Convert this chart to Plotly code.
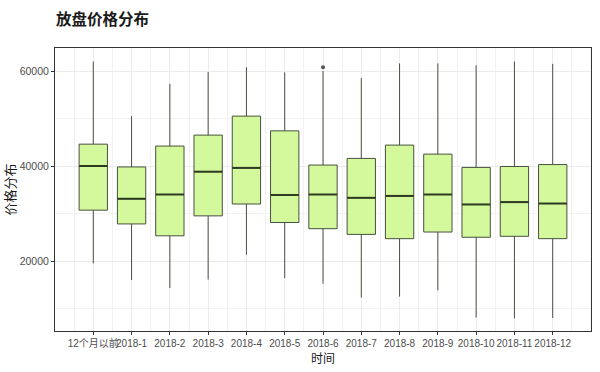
import plotly.graph_objects as go

categories = ["12个月以前", "2018-1", "2018-2", "2018-3", "2018-4", "2018-5", "2018-6",
              "2018-7", "2018-8", "2018-9", "2018-10", "2018-11", "2018-12"]
lower_whisker = [19500, 16000, 14300, 16100, 21300, 16400, 15200, 12300, 12500, 13800, 8100, 7900, 8000]
q1_values     = [30700, 27800, 25300, 29500, 32000, 28100, 26800, 25600, 24700, 26100, 25000, 25200, 24700]
median_values = [40000, 33100, 34000, 38800, 39600, 33900, 34000, 33300, 33700, 34000, 31900, 32400, 32100]
q3_values     = [44600, 39800, 44200, 46500, 50500, 47400, 40200, 41600, 44400, 42500, 39700, 39900, 40300]
upper_whisker = [62000, 50500, 57300, 59800, 60800, 59700, 60000, 58500, 61600, 61600, 61200, 62000, 61500]
outlier_cat = ["2018-6"]
outlier_val = [60800]

title_text = "放盘价格分布"
x_title = "时间"
y_title = "价格分布"
y_ticks = [20000, 40000, 60000]
y_minor = [10000, 30000, 50000]

xs = list(range(len(categories)))
box_w = 0.74
fill = "#D4F99C"
edge = "#48503F"

fig = go.Figure()
fig.add_trace(go.Box(
    x=xs, q1=q1_values, median=median_values, q3=q3_values,
    lowerfence=lower_whisker, upperfence=upper_whisker,
    width=box_w, whiskerwidth=0, fillcolor=fill,
    line=dict(color=edge, width=1), boxpoints=False, showlegend=False,
    hoverinfo="skip",
))
# thicker median lines (ggplot style)
for i, m in zip(xs, median_values):
    fig.add_trace(go.Scatter(x=[i - box_w / 2, i + box_w / 2], y=[m, m], mode="lines",
                             line=dict(color="#2E3A22", width=2), showlegend=False, hoverinfo="skip"))
fig.add_trace(go.Scatter(x=[categories.index(c) for c in outlier_cat], y=outlier_val, mode="markers",
                         marker=dict(color="#555555", size=4), showlegend=False, hoverinfo="skip"))

font_fam = "Liberation Sans, Arial, Noto Sans CJK SC"
fig.update_layout(
    width=600, height=372,
    margin=dict(l=55, r=9, t=48, b=41),
    paper_bgcolor="white", plot_bgcolor="white",
    font=dict(family=font_fam, color="#4d4d4d", size=10.5),
    title=dict(text="<b>" + title_text + "</b>", x=56 / 600, xref="container", xanchor="left",
               y=1 - 19.5 / 372, yanchor="middle",
               font=dict(size=15.5, color="#1a1a1a", family="Noto Sans CJK SC")),
)
fig.update_xaxes(
    range=[-1, len(categories)], tickvals=xs, ticktext=categories, tickangle=0,
    automargin=False,
    showgrid=True, gridcolor="#ebebeb", gridwidth=1,
    minor=dict(tickvals=[i + 0.5 for i in range(-1, len(categories))], showgrid=True,
               gridcolor="#f2f2f2", gridwidth=1),
    showline=True, linecolor="#333333", linewidth=1, mirror=True,
    ticks="outside", ticklen=3, tickcolor="#333333", zeroline=False,
    tickfont=dict(size=10, color="#4d4d4d", family=font_fam),
    title=dict(text=x_title, font=dict(size=12, color="#1a1a1a", family="Noto Sans CJK SC"), standoff=1),
)
fig.update_yaxes(
    range=[5263, 64842], tickvals=y_ticks, tickformat="d",
    automargin=False,
    showgrid=True, gridcolor="#ebebeb", gridwidth=1,
    minor=dict(tickvals=y_minor, showgrid=True, gridcolor="#f2f2f2", gridwidth=1),
    showline=True, linecolor="#333333", linewidth=1, mirror=True,
    ticks="outside", ticklen=3, tickcolor="#333333", zeroline=False,
    tickfont=dict(size=10.5, color="#4d4d4d", family=font_fam),
    title=dict(text=y_title, font=dict(size=13, color="#1a1a1a", family="Noto Sans CJK SC"), standoff=5),
)

fig.write_html("out.html", config={"displayModeBar": False},
               post_script="document.body.style.margin='0';document.body.style.overflow='hidden';")
